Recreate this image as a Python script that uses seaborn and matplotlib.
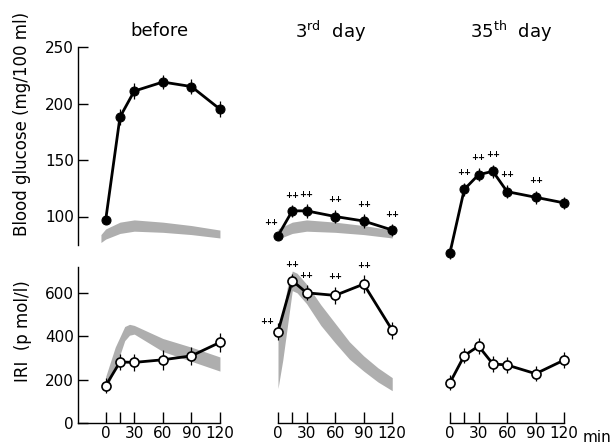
import numpy as np
import pandas as pd
import matplotlib
matplotlib.use("Agg")
import matplotlib.pyplot as plt
import seaborn as sns

# ---------------- data ----------------
t6 = [0, 15, 30, 60, 90, 120]
t7 = [0, 15, 30, 45, 60, 90, 120]

glu_before = [97, 188, 211, 219, 215, 195]
glu_before_err = [4, 7, 7, 6, 7, 7]
glu_day3 = [83, 105, 105, 100, 96, 88]
glu_day3_err = [3, 5, 6, 6, 6, 5]
glu_day35 = [68, 124, 137, 140, 122, 117, 112]
glu_day35_err = [6, 6, 6, 6, 6, 6, 5]

iri_before = [173, 282, 280, 292, 310, 372]
iri_before_err = [35, 35, 40, 45, 40, 42]
iri_day3 = [421, 656, 600, 588, 640, 428]
iri_day3_err = [40, 30, 35, 40, 40, 40]
iri_day35 = [187, 311, 355, 273, 268, 228, 291]
iri_day35_err = [35, 35, 35, 35, 35, 35, 35]

# normal range bands
glu_band_t = [-5, 0, 15, 30, 60, 90, 120]
glu_band_lo = [77, 80, 85, 87, 86, 84, 81]
glu_band_hi = [84, 89, 95, 97, 95, 92, 88]

iri_before_band_t = [0, 10, 20, 25, 30, 60, 90, 120]
iri_before_band_lo = [150, 250, 380, 405, 410, 330, 285, 240]
iri_before_band_hi = [215, 350, 445, 455, 450, 390, 350, 305]

iri_day3_band_t = [0, 5, 10, 15, 20, 30, 45, 60, 75, 90, 105, 120]
iri_day3_band_lo = [160, 290, 450, 610, 600, 550, 450, 370, 295, 240, 190, 150]
iri_day3_band_hi = [400, 510, 630, 700, 690, 640, 545, 460, 375, 310, 255, 210]

glu_day3_sig = [0, 15, 30, 60, 90, 120]
glu_day35_sig = [15, 30, 45, 60, 90]
iri_day3_sig = [15, 30, 60, 90]

titles = ["before", r"3$^{\rm rd}$  day", r"35$^{\rm th}$  day"]
glu_label = "Blood glucose (mg/100 ml)"
iri_label = "IRI  (p mol/l)"
xtick_pos = [0, 15, 30, 60, 90, 120]
xtick_lab = ["0", "", "30", "60", "90", "120"]

# ---------------- style ----------------
sns.set_theme(style="ticks")
plt.rcParams["font.family"] = ["Liberation Sans Narrow", "DejaVu Sans"]
plt.rcParams["mathtext.fontset"] = "dejavusans"
plt.rcParams["text.color"] = "black"
plt.rcParams["axes.labelcolor"] = "black"
plt.rcParams["xtick.color"] = "black"
plt.rcParams["ytick.color"] = "black"

W, H = 615, 445
fig = plt.figure(figsize=(W / 100, H / 100), dpi=100)
fig.patch.set_facecolor("white")

PXMIN = 0.952      # px per minute
GLU_PX = 1.13      # px per mg/100ml
IRI_PX = 0.2175    # px per pmol/l
zero_px = [105.7, 278.0, 450.0]
xlo = [-29, -12, -12]
xhi = 125

glu_lim = (58, 255)
iri_lim = (0, 725)
y250 = 47.0
y0iri = 423.3
band_color = "#aeaeae"


def add_ax(col, row):
    left_px = zero_px[col] + xlo[col] * PXMIN
    width_px = (xhi - xlo[col]) * PXMIN
    if row == 0:
        top_px = y250 - (glu_lim[1] - 250) * GLU_PX
        bot_px = y250 + (250 - glu_lim[0]) * GLU_PX
    else:
        top_px = y0iri - iri_lim[1] * IRI_PX
        bot_px = y0iri
    ax = fig.add_axes([left_px / W, 1 - bot_px / H, width_px / W, (bot_px - top_px) / H])
    ax.set_facecolor("none")
    ax.set_xlim(xlo[col], xhi)
    ax.set_ylim(*(glu_lim if row == 0 else iri_lim))
    for s in ["top", "right"]:
        ax.spines[s].set_visible(False)
    for s in ["left", "bottom"]:
        ax.spines[s].set_color("black")
    return ax


glu_data = [(t6, glu_before, glu_before_err), (t6, glu_day3, glu_day3_err),
            (t7, glu_day35, glu_day35_err)]
iri_data = [(t6, iri_before, iri_before_err), (t6, iri_day3, iri_day3_err),
            (t7, iri_day35, iri_day35_err)]

lw_main = 2.0
ms = 6.5
sig_kw = dict(textcoords="offset points", ha="center", va="bottom", fontsize=6,
              fontweight="bold", family="DejaVu Sans", annotation_clip=False)

for col in range(3):
    # ---- glucose row ----
    ax = add_ax(col, 0)
    ax.spines["bottom"].set_visible(False)
    ax.set_xticks([])
    if col < 2:
        ax.fill_between(glu_band_t if col == 0 else glu_band_t[1:],
                        glu_band_lo if col == 0 else glu_band_lo[1:],
                        glu_band_hi if col == 0 else glu_band_hi[1:],
                        color=band_color, linewidth=0, zorder=1)
    t, y, e = glu_data[col]
    ax.errorbar(t, y, yerr=e, fmt="none", ecolor="black", elinewidth=0.9,
                capsize=0, zorder=2, clip_on=False)
    df = pd.DataFrame({"t": t, "v": y})
    sns.lineplot(data=df, x="t", y="v", ax=ax, color="black", linewidth=lw_main,
                 marker="o", markersize=ms, markerfacecolor="black",
                 markeredgecolor="black", zorder=3, clip_on=False)
    ax.set_xlabel("")
    ax.set_ylabel("")
    if col == 0:
        ax.spines["left"].set_bounds(75, 250)
        ax.spines["left"].set_linewidth(1.0)
        ax.set_yticks([100, 150, 200, 250])
        ax.tick_params(axis="y", direction="in", length=7, width=1.0, pad=3,
                       labelsize=11, colors="black")
    else:
        ax.spines["left"].set_visible(False)
        ax.set_yticks([])
    if col == 1:
        for tt, yy, ee in zip(t, y, e):
            if tt in glu_day3_sig:
                dx = -5 if tt == 0 else 0
                ax.annotate("++", (tt, yy + ee), xytext=(dx, 4), **sig_kw)
    if col == 2:
        for tt, yy, ee in zip(t, y, e):
            if tt in glu_day35_sig:
                ax.annotate("++", (tt, yy + ee), xytext=(0, 4), **sig_kw)

    # ---- IRI row ----
    ax2 = add_ax(col, 1)
    if col == 0:
        ax2.fill_between(iri_before_band_t, iri_before_band_lo, iri_before_band_hi,
                         color=band_color, linewidth=0, zorder=1)
    elif col == 1:
        ax2.fill_between(iri_day3_band_t, iri_day3_band_lo, iri_day3_band_hi,
                         color=band_color, linewidth=0, zorder=1)
    t, y, e = iri_data[col]
    ax2.errorbar(t, y, yerr=e, fmt="none", ecolor="black", elinewidth=0.9,
                 capsize=0, zorder=2, clip_on=False)
    df = pd.DataFrame({"t": t, "v": y})
    sns.lineplot(data=df, x="t", y="v", ax=ax2, color="black", linewidth=lw_main,
                 marker="o", markersize=ms, markerfacecolor="white",
                 markeredgecolor="black", markeredgewidth=1.2, zorder=3, clip_on=False)
    ax2.set_xlabel("")
    ax2.set_ylabel("")
    ax2.set_xticks(xtick_pos, labels=xtick_lab)
    ax2.tick_params(axis="x", direction="in", length=8, width=1.0, pad=2,
                    labelsize=11, colors="black")
    ax2.spines["bottom"].set_linewidth(1.0)
    if col == 0:
        ax2.spines["bottom"].set_bounds(xlo[0], 120)
        ax2.spines["left"].set_bounds(0, 720)
        ax2.spines["left"].set_linewidth(1.0)
        ax2.set_yticks([0, 200, 400, 600])
        ax2.tick_params(axis="y", direction="in", length=7, width=1.0, pad=3,
                        labelsize=11, colors="black")
    else:
        ax2.spines["bottom"].set_bounds(0, 120)
        ax2.spines["left"].set_visible(False)
        ax2.set_yticks([])
    if col == 1:
        for tt, yy, ee in zip(t, y, e):
            if tt == 0:
                ax2.annotate("++", (tt, yy), xytext=(-8, 4), **sig_kw)
            elif tt in iri_day3_sig:
                ax2.annotate("++", (tt, yy + ee), xytext=(0, 4), **sig_kw)

# titles
title_x = [159, 331, 511]
for tx, ttl in zip(title_x, titles):
    fig.text(tx / W, 1 - 31 / H, ttl, ha="center", va="center", fontsize=13,
             color="black")

# y labels
fig.text(22 / W, 1 - 124 / H, glu_label, rotation=90, ha="center", va="center",
         fontsize=12, color="black")
fig.text(23 / W, 1 - 331 / H, iri_label, rotation=90, ha="center", va="center",
         fontsize=12, color="black")

# "min" unit
fig.text(583 / W, 1 - 437 / H, "min", ha="left", va="center", fontsize=11, color="black")

fig.savefig("out.png", dpi=100, facecolor="white")
